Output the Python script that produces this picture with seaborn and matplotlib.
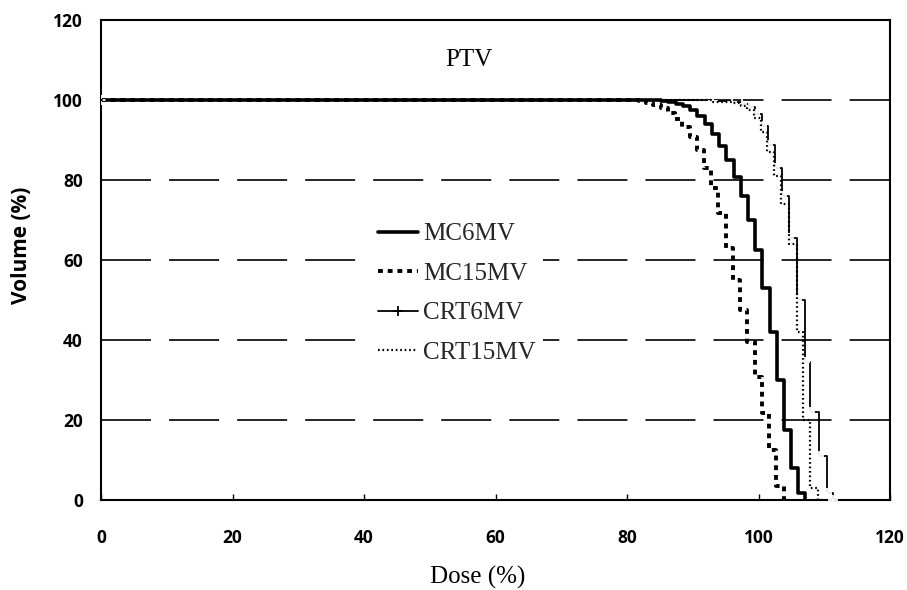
import matplotlib
matplotlib.use("Agg")
import matplotlib.pyplot as plt
from matplotlib.lines import Line2D
import seaborn as sns

# dose (%) where each step of the DVH starts, and the volume (%) after it
mc6_dose = [0, 83, 85.2, 86.3, 87.4, 88.5, 89.6, 90.7, 91.8, 92.9, 94, 95.1, 96.2,
            97.3, 98.4, 99.5, 100.6, 101.7, 102.8, 103.9, 104.9, 106, 107.1]
mc6_vol = [100, 99.9, 99.8, 99.6, 99.1, 98.4, 97.4, 96, 94, 91.5, 88.5, 85, 80.8,
           76, 70, 62.5, 53, 42, 30, 17.5, 8, 1.75, 0]

mc15_dose = [0, 80, 81.8, 82.9, 84, 85.1, 86.2, 87.3, 88.4, 89.5, 90.6, 91.7, 92.8,
             93.9, 95, 96.1, 97.2, 98.3, 99.4, 100.5, 101.6, 102.7, 103.8]
mc15_vol = [100, 99.9, 99.7, 99.3, 98.7, 97.9, 96.8, 95.3, 93.3, 90.8, 87.5, 83, 78,
            71.75, 63, 55, 47.5, 39.5, 30.75, 21.75, 12.5, 3.5, 0]

crt6_dose = [0, 93, 96, 97.5, 98.5, 99.5, 100.5, 101.5, 102.5, 103.5, 104.6, 105.9,
             107.1, 107.9, 109.2, 110.4, 111.3]
crt6_vol = [100, 99.8, 99.5, 99, 98.2, 96.5, 93.5, 88.8, 83, 76, 65.5, 50,
            34.5, 22, 11, 1.75, 0]

crt15_dose = [0, 93, 96, 97.3, 98.3, 99.3, 100.3, 101.3, 102.3, 103.4, 104.6, 105.8,
              106.8, 107.9, 109.1]
crt15_vol = [100, 99.6, 99.2, 98.6, 97.5, 95.5, 92, 87, 81, 74, 64, 42,
             20, 3, 0]

x_ticks = [0, 20, 40, 60, 80, 100, 120]
y_ticks = [0, 20, 40, 60, 80, 100, 120]
grid_levels = [20, 40, 60, 80, 100]

sns.set_theme(style="white")
plt.rcParams["lines.scale_dashes"] = False
plt.rcParams["font.family"] = ["Liberation Serif", "DejaVu Serif"]

fig = plt.figure(figsize=(9.07, 5.90), dpi=100)
ax = fig.add_axes([0.1114, 0.1525, 0.8699, 0.8136])

# long dashed reference lines
for lev in grid_levels:
    ax.axhline(lev, color="black", lw=1.2, dashes=(36, 13), zorder=1)

series = [
    (mc6_dose, mc6_vol, "MC6MV", dict(lw=2.6, linestyle="-")),
    (mc15_dose, mc15_vol, "MC15MV", dict(lw=2.8, dashes=(3.5, 3.5))),
    (crt6_dose, crt6_vol, "CRT6MV", dict(lw=1.3, linestyle="-", marker="+",
                                         markersize=7, markeredgewidth=1.3)),
    (crt15_dose, crt15_vol, "CRT15MV", dict(lw=1.6, dashes=(1.2, 2.0))),
]
handles = []
for xs, ys, name, style in series:
    sns.lineplot(x=xs, y=ys, ax=ax, color="black", drawstyle="steps-post",
                 zorder=3, legend=False, **style)
    handles.append(Line2D([], [], color="black", label=name, **style))

ax.set_xlim(0, 120)
ax.set_ylim(0, 120)
ax.set_xticks(x_ticks)
ax.set_yticks(y_ticks)
tick_font = dict(family="Open Sans", weight="bold", size=12.5)
ax.set_xticklabels([str(t) for t in x_ticks], fontdict=tick_font)
ax.set_yticklabels([str(t) for t in y_ticks], fontdict=tick_font)
ax.tick_params(axis="x", direction="in", length=4, width=1, pad=21, colors="black")
ax.tick_params(axis="y", length=0, pad=13, colors="black")
ax.tick_params(bottom=True, left=False)

for sp in ax.spines.values():
    sp.set_color("black")
    sp.set_linewidth(1.5)

ax.set_xlabel("Dose (%)", fontsize=18, color="black")
ax.xaxis.set_label_coords(0.478, -0.138)
ax.set_ylabel("Volume (%)", fontsize=15, family="Open Sans", weight="bold",
              color="black")
ax.yaxis.set_label_coords(-0.087, 0.53)

ax.text(56, 110, "PTV", fontsize=18, ha="center", va="center", color="black")

leg = ax.legend(handles=handles, loc="upper left", bbox_to_anchor=(0.3415, 0.593),
                frameon=True, facecolor="white", edgecolor="none", framealpha=1,
                fancybox=False, fontsize=18, handlelength=1.6, handletextpad=0.2,
                labelspacing=0.68, borderpad=0.3, borderaxespad=0, numpoints=1)
leg.set_zorder(5)

fig.savefig("out.png", dpi=100)
